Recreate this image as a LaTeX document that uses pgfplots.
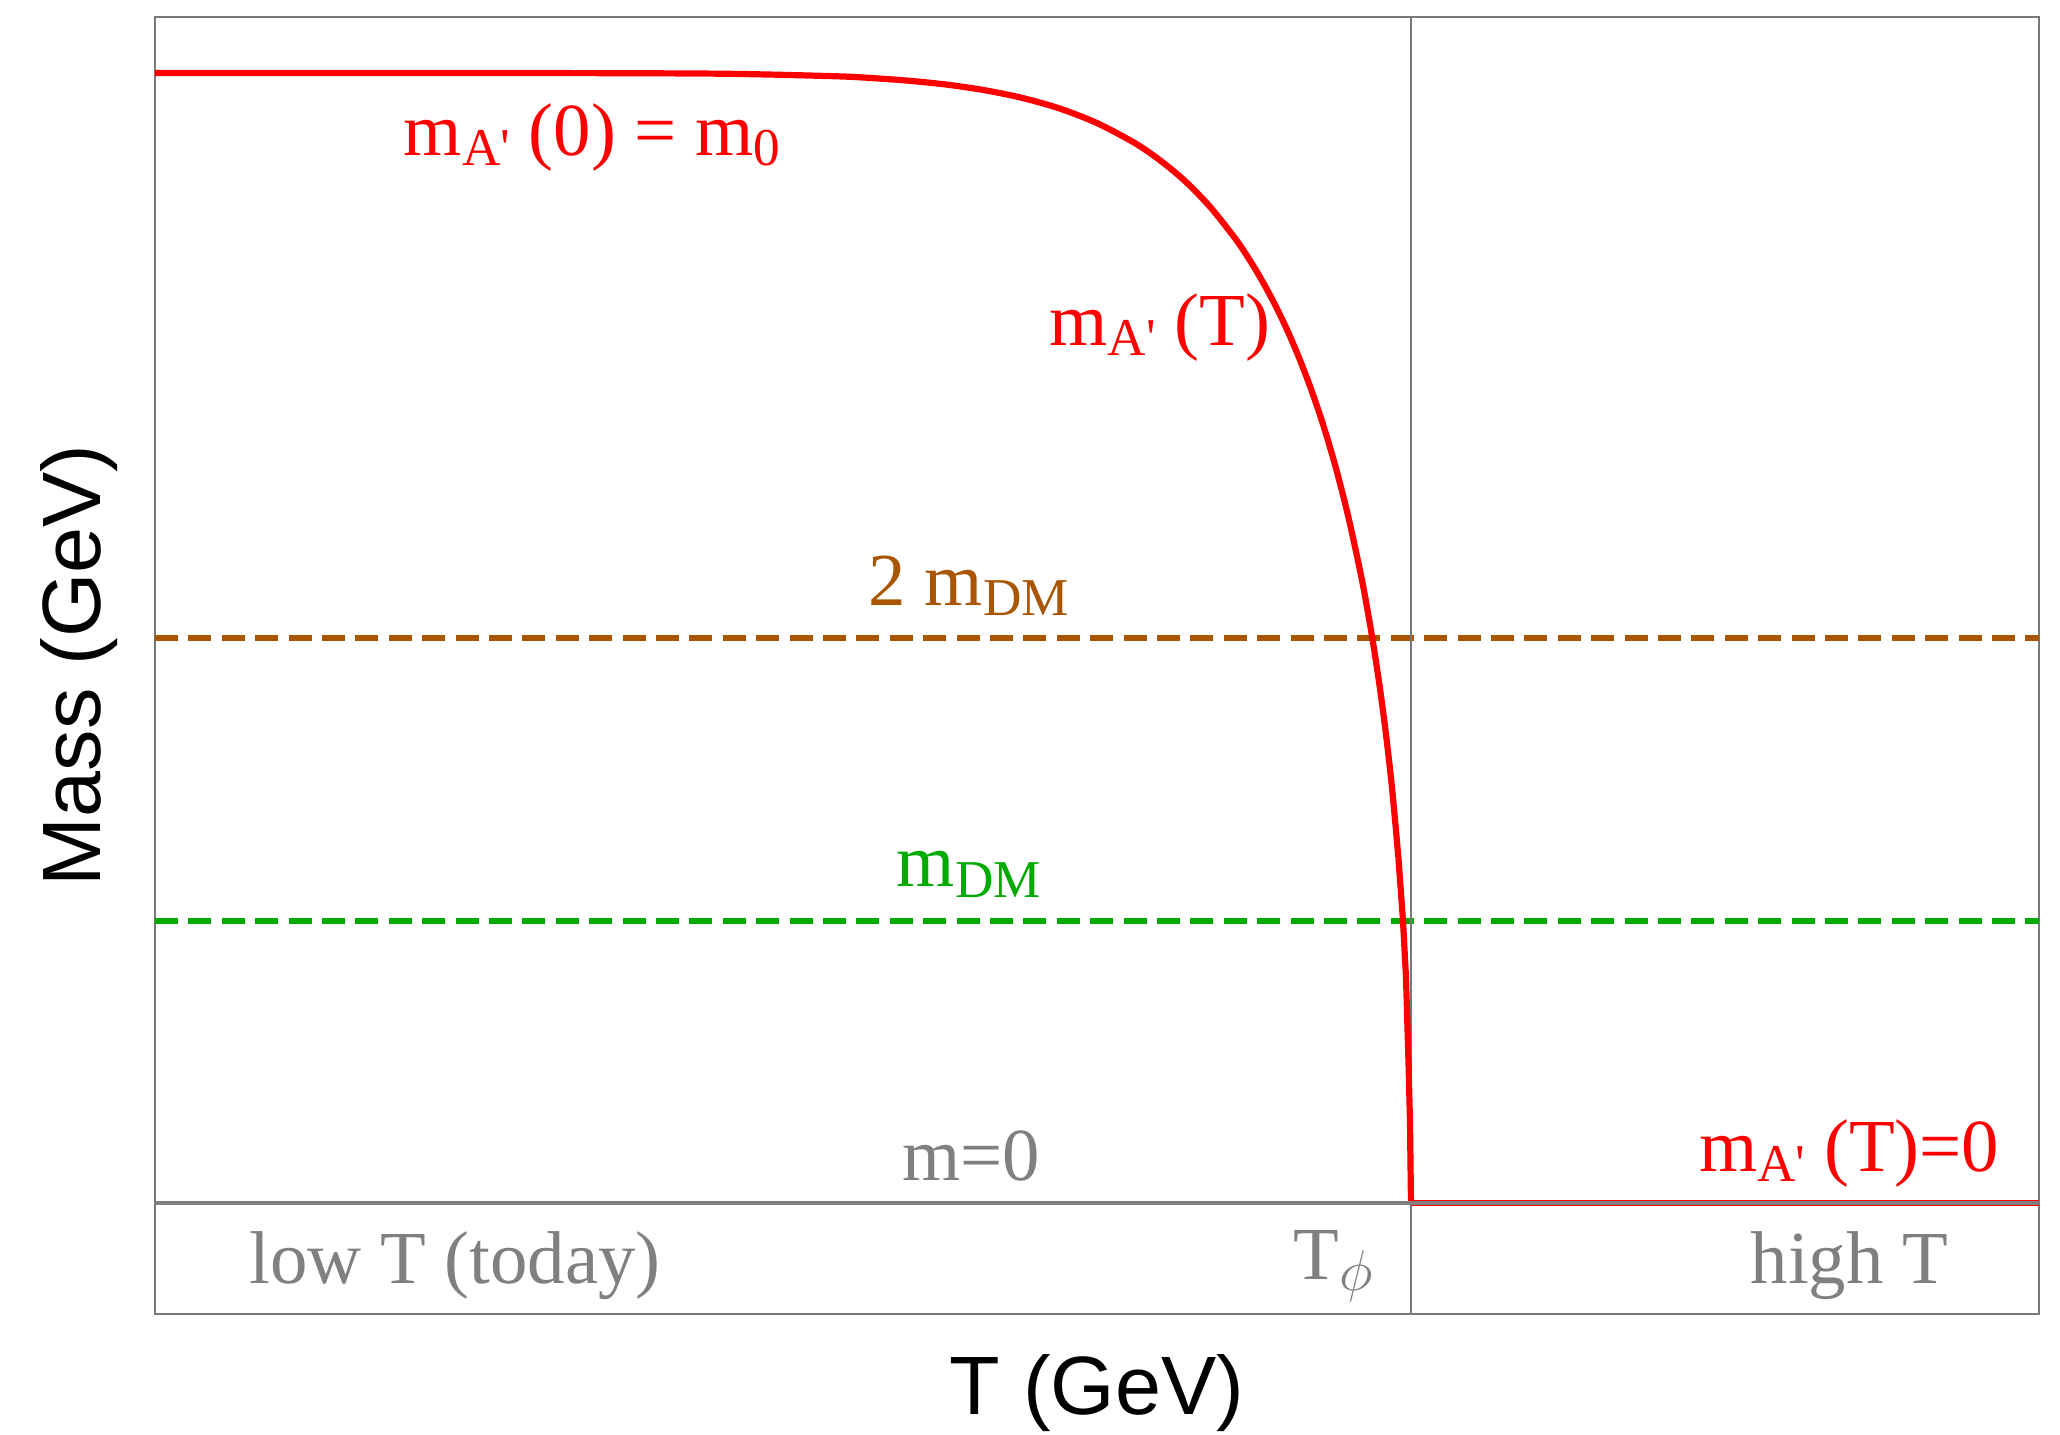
\documentclass[border=0pt]{standalone}
\usepackage{pgfplots}
\pgfplotsset{compat=1.18}
\usepackage{fontspec}
\setmainfont{Liberation Serif}
\setsansfont{Liberation Sans}
\definecolor{dmbrown}{RGB}{170,85,0}
\definecolor{dmgreen}{RGB}{0,170,0}
\definecolor{framegray}{RGB}{120,120,120}
\definecolor{labgray}{RGB}{128,128,128}
\newcommand{\lf}{\fontsize{18.7}{22}\selectfont}
\newcommand{\sub}[1]{\raisebox{-2.6pt}{\fontsize{13.3}{14}\selectfont #1}}
\newcommand{\ma}{m\sub{A\textquotesingle}}

\begin{document}
\begin{tikzpicture}
\path[use as bounding box] (-38.75pt,-30.25pt) rectangle (476.25pt,328.5pt);
\begin{axis}[
  scale only axis,
  width=471pt, height=324.25pt,
  xmin=0, xmax=1.5, ymin=-0.0982, ymax=1.0496,
  xtick=\empty, ytick=\empty,
  axis line style={framegray, line width=0.6pt},
  xlabel={T (GeV)}, ylabel={Mass (GeV)},
  label style={font=\sffamily\fontsize{20.7}{24}\selectfont},
  xlabel style={at={(axis description cs:0.5,-0.0609)}, anchor=center},
  ylabel style={at={(axis description cs:-0.0403,0.5)}, anchor=center},
  every node/.append style={inner sep=0pt},
]
% thresholds
\addplot[dmbrown, line width=1.5pt, dash pattern=on 5.75pt off 2.6pt] coordinates {(0,0.5) (1.5,0.5)};
\addplot[dmgreen, line width=1.5pt, dash pattern=on 5.75pt off 2.6pt] coordinates {(0,0.25) (1.5,0.25)};
% T_phi
\addplot[framegray, line width=0.4pt] coordinates {(1,-0.0982) (1,1.0496)};
% m_A'(T)
\addplot[red, line width=1.55pt, smooth] coordinates {
  (0,1.000) (0.15,1.000) (0.30,1.000) (0.45,0.9994) (0.54,0.9972)
  (0.57,0.9956) (0.60,0.9932) (0.63,0.9898) (0.66,0.9849) (0.69,0.9781)
  (0.72,0.9687) (0.75,0.9557) (0.78,0.9381) (0.80,0.9229) (0.82,0.9045)
  (0.84,0.8816) (0.86,0.8536) (0.87,0.8372) (0.88,0.8190) (0.89,0.7987)
  (0.90,0.7760) (0.91,0.7504) (0.92,0.7216) (0.93,0.6889) (0.94,0.6513)
  (0.95,0.6078) (0.96,0.5565) (0.965,0.5271) (0.97,0.4944) (0.975,0.4576)
  (0.98,0.4156) (0.985,0.3661) (0.99,0.3052)};
\addplot[red, line width=1.55pt] coordinates {
  (0.99,0.3052) (0.9936,0.2504) (0.996,0.2004) (0.998,0.125) (0.9992,0.0717) (1.0,0)};
\addplot[red, line width=1.6pt] coordinates {(1.0,0) (1.5,0)};
% m = 0
\addplot[labgray, line width=1.05pt] coordinates {(0,0) (1.5,0)};

\node[red, anchor=base, font=\lf] at (axis cs:0.348,0.927) {\ma\ (0) = m\sub{0}};
\node[red, anchor=base, font=\lf] at (axis cs:0.800,0.759) {\ma\ (T)};
\node[dmbrown, anchor=base, font=\lf] at (axis cs:0.648,0.529) {2 m\sub{DM}};
\node[dmgreen, anchor=base, font=\lf] at (axis cs:0.648,0.280) {m\sub{DM}};
\node[labgray, anchor=base, font=\lf] at (axis cs:0.650,0.020) {m=0};
\node[red, anchor=base, font=\lf] at (axis cs:1.349,0.028) {\ma\ (T)=0};
\node[labgray, anchor=base, font=\lf] at (axis cs:0.239,-0.0708) {low T (today)};
\node[labgray, anchor=base east, font=\lf] at (axis cs:0.981,-0.068) {T\raisebox{-2.6pt}{\fontsize{13.3}{14}\selectfont$\phi$}};
\node[labgray, anchor=base, font=\lf] at (axis cs:1.349,-0.0708) {high T};
\end{axis}
\end{tikzpicture}
\end{document}
